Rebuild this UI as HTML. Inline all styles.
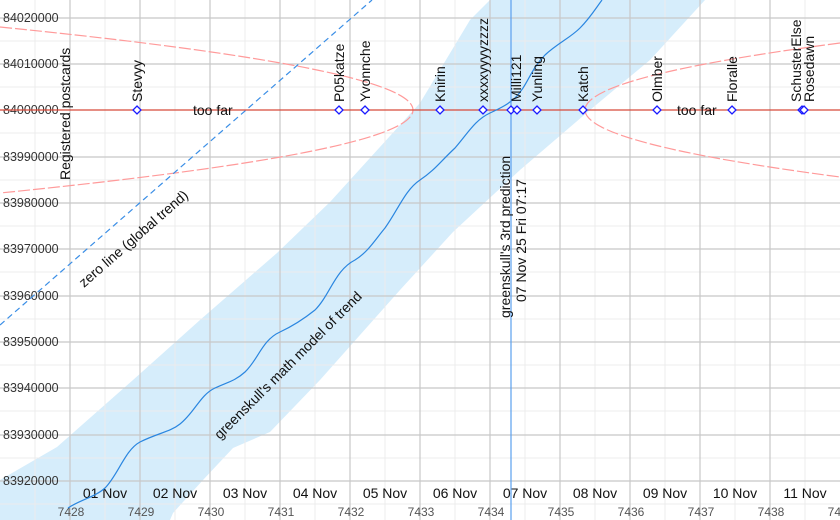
<!DOCTYPE html>
<html><head><meta charset="utf-8"><style>
html,body{margin:0;padding:0;background:#fff;}
svg{display:block;font-family:"Liberation Sans",Arial,sans-serif;}
</style></head><body>
<svg width="840" height="520" viewBox="0 0 840 520" xmlns="http://www.w3.org/2000/svg">
<rect width="840" height="520" fill="#fff"/>
<path d="M0,480 L57,447 L133,380 L200,320 L277,253 L330,202 L420,103 L470,20 L490,0 L705,0 L650,60 L590,110 L520,170 L453,232 L400,290 L320,380 L270,432 L233,448 L203,480 L173,513 L170,520 L0,520 Z" fill="#d6edfb"/>
<g stroke="#ececec" stroke-width="1">
<line x1="35" y1="0" x2="35" y2="520"/><line x1="105" y1="0" x2="105" y2="520"/><line x1="175" y1="0" x2="175" y2="520"/><line x1="245" y1="0" x2="245" y2="520"/><line x1="315" y1="0" x2="315" y2="520"/><line x1="385" y1="0" x2="385" y2="520"/><line x1="455" y1="0" x2="455" y2="520"/><line x1="525" y1="0" x2="525" y2="520"/><line x1="595" y1="0" x2="595" y2="520"/><line x1="665" y1="0" x2="665" y2="520"/><line x1="735" y1="0" x2="735" y2="520"/><line x1="805" y1="0" x2="805" y2="520"/>
<line x1="0" y1="41" x2="840" y2="41"/><line x1="0" y1="87" x2="840" y2="87"/><line x1="0" y1="133" x2="840" y2="133"/><line x1="0" y1="180" x2="840" y2="180"/><line x1="0" y1="226" x2="840" y2="226"/><line x1="0" y1="272" x2="840" y2="272"/><line x1="0" y1="319" x2="840" y2="319"/><line x1="0" y1="365" x2="840" y2="365"/><line x1="0" y1="411" x2="840" y2="411"/><line x1="0" y1="458" x2="840" y2="458"/><line x1="0" y1="504" x2="840" y2="504"/>
</g>
<g stroke="#c8c8c8" stroke-width="1.2">
<line x1="70" y1="0" x2="70" y2="520"/><line x1="140" y1="0" x2="140" y2="520"/><line x1="210" y1="0" x2="210" y2="520"/><line x1="280" y1="0" x2="280" y2="520"/><line x1="350" y1="0" x2="350" y2="520"/><line x1="420" y1="0" x2="420" y2="520"/><line x1="490" y1="0" x2="490" y2="520"/><line x1="560" y1="0" x2="560" y2="520"/><line x1="630" y1="0" x2="630" y2="520"/><line x1="700" y1="0" x2="700" y2="520"/><line x1="770" y1="0" x2="770" y2="520"/>
<line x1="0" y1="18" x2="840" y2="18"/><line x1="0" y1="64" x2="840" y2="64"/><line x1="0" y1="157" x2="840" y2="157"/><line x1="0" y1="203" x2="840" y2="203"/><line x1="0" y1="249" x2="840" y2="249"/><line x1="0" y1="296" x2="840" y2="296"/><line x1="0" y1="342" x2="840" y2="342"/><line x1="0" y1="388" x2="840" y2="388"/><line x1="0" y1="435" x2="840" y2="435"/><line x1="0" y1="481" x2="840" y2="481"/>
</g>
<g font-size="12.5" fill="#333">
<text x="3" y="22">84020000</text><text x="3" y="68">84010000</text><text x="3" y="114">84000000</text><text x="3" y="161">83990000</text><text x="3" y="207">83980000</text><text x="3" y="253">83970000</text><text x="3" y="300">83960000</text><text x="3" y="346">83950000</text><text x="3" y="392">83940000</text><text x="3" y="439">83930000</text><text x="3" y="485">83920000</text>
</g>
<g font-size="14" fill="#111" text-anchor="middle">
<text x="105" y="498">01 Nov</text><text x="175" y="498">02 Nov</text><text x="245" y="498">03 Nov</text><text x="315" y="498">04 Nov</text><text x="385" y="498">05 Nov</text><text x="455" y="498">06 Nov</text><text x="525" y="498">07 Nov</text><text x="595" y="498">08 Nov</text><text x="665" y="498">09 Nov</text><text x="735" y="498">10 Nov</text><text x="805" y="498">11 Nov</text>
</g>
<g font-size="12" fill="#555" text-anchor="middle">
<text x="71" y="516">7428</text><text x="141" y="516">7429</text><text x="211" y="516">7430</text><text x="281" y="516">7431</text><text x="351" y="516">7432</text><text x="421" y="516">7433</text><text x="491" y="516">7434</text><text x="561" y="516">7435</text><text x="631" y="516">7436</text><text x="701" y="516">7437</text><text x="771" y="516">7438</text><text x="841" y="516">7439</text>
</g>
<path d="M0,27 Q826,110 0,193" fill="none" stroke="#ff9a9a" stroke-width="1.2" stroke-dasharray="12,3"/>
<path d="M840,43 Q330,110 840,177" fill="none" stroke="#ff9a9a" stroke-width="1.2" stroke-dasharray="12,3"/>
<line x1="0" y1="325" x2="372" y2="0" stroke="#3a8ee6" stroke-width="1.2" stroke-dasharray="6,4"/>
<line x1="0" y1="110" x2="840" y2="110" stroke="#d84a3a" stroke-width="1.3"/>
<path d="M68,508 C80,500 95,497 105,488 C118,475 125,450 140,442 C158,433 170,432 180,424 C195,412 200,395 215,388 C228,382 235,381 245,372 C258,360 262,340 280,332 C295,325 305,318 315,310 C330,295 335,270 355,260 C368,252 375,240 385,228 C398,210 405,190 420,180 C435,170 440,162 455,148 C468,133 475,120 490,113 C503,107 508,104 515,98 C528,85 530,70 545,55 C558,43 570,38 580,28 C590,18 596,8 602,0" fill="none" stroke="#2a86e0" stroke-width="1.2"/>
<line x1="511" y1="0" x2="511" y2="520" stroke="#5aa0ee" stroke-width="1.2"/>
<g fill="#fff" stroke="#1a1aff" stroke-width="1.3">
<path d="M137,106 L141,110 L137,114 L133,110Z"/><path d="M339,106 L343,110 L339,114 L335,110Z"/><path d="M365,106 L369,110 L365,114 L361,110Z"/><path d="M440,106 L444,110 L440,114 L436,110Z"/><path d="M483,106 L487,110 L483,114 L479,110Z"/><path d="M511,106 L515,110 L511,114 L507,110Z"/><path d="M517,106 L521,110 L517,114 L513,110Z"/><path d="M537,106 L541,110 L537,114 L533,110Z"/><path d="M583,106 L587,110 L583,114 L579,110Z"/><path d="M657,106 L661,110 L657,114 L653,110Z"/><path d="M732,106 L736,110 L732,114 L728,110Z"/><path d="M802,106 L806,110 L802,114 L798,110Z"/><path d="M804,106 L808,110 L804,114 L800,110Z"/>
</g>
<g font-size="14" fill="#111">
<text transform="translate(142,102) rotate(-90)">Stevyy</text>
<text transform="translate(344,102) rotate(-90)">P05katze</text>
<text transform="translate(370,102) rotate(-90)">Yvonnche</text>
<text transform="translate(445,102) rotate(-90)">Knirin</text>
<text transform="translate(488,102) rotate(-90)">xxxxyyyyzzzz</text>
<text transform="translate(521,102) rotate(-90)">Milli121</text>
<text transform="translate(542,102) rotate(-90)">Yunling</text>
<text transform="translate(588,102) rotate(-90)">Katch</text>
<text transform="translate(662,102) rotate(-90)">Olmber</text>
<text transform="translate(737,102) rotate(-90)">Floralle</text>
<text transform="translate(801,102) rotate(-90)">SchusterElse</text>
<text transform="translate(814,102) rotate(-90)">Rosedawn</text>
<text x="193" y="115">too far</text>
<text x="677" y="115">too far</text>
<text transform="translate(70,180) rotate(-90)">Registered postcards</text>
<text transform="translate(84,288) rotate(-41)">zero line (global trend)</text>
<text transform="translate(220,440) rotate(-45)">greenskull's math model of trend</text>
<text transform="translate(510,318) rotate(-90)">greenskull's 3rd prediction</text>
<text transform="translate(526,302) rotate(-90)">07 Nov 25 Fri 07:17</text>
</g>
</svg>
</body></html>
